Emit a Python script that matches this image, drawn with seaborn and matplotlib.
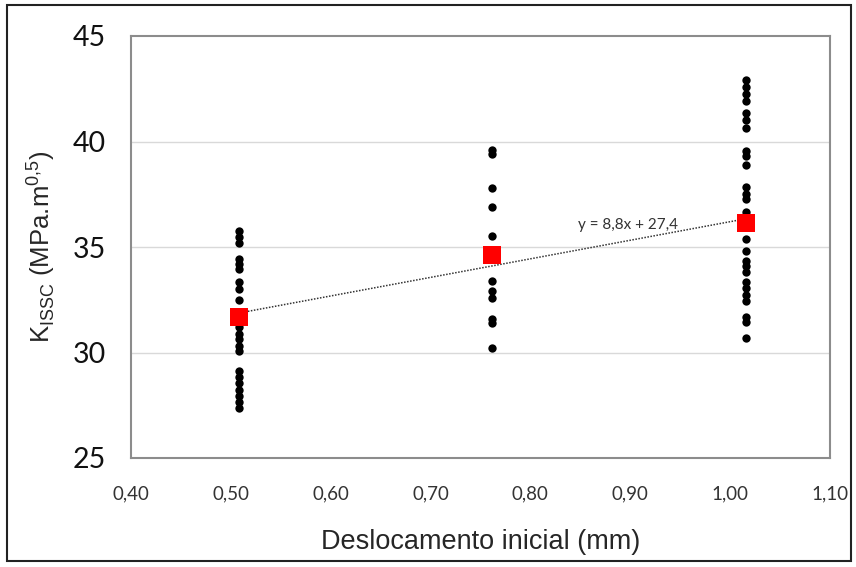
import numpy as np
import pandas as pd
import matplotlib
matplotlib.use("Agg")
import matplotlib.pyplot as plt
import seaborn as sns
from matplotlib.patches import Rectangle

# ---- data ----
x_positions = [0.508, 0.762, 1.016]
kissc_050 = [35.76, 35.48, 35.19, 34.43, 34.19, 33.95, 33.33, 33.0, 32.48, 31.8,
             31.48, 31.19, 30.9, 30.62, 30.33, 30.05, 29.1, 28.86, 28.57, 28.24,
             27.95, 27.67, 27.38]
kissc_076 = [39.6, 39.4, 37.8, 36.9, 35.5, 33.4, 32.9, 32.6, 31.6, 31.4, 30.2]
kissc_102 = [42.9, 42.57, 42.24, 41.9, 41.33, 41.0, 40.62, 39.57, 39.29, 38.9,
             37.86, 37.52, 37.29, 36.67, 35.38, 34.81, 34.33, 34.1, 33.81, 33.33,
             33.05, 32.71, 32.43, 31.67, 31.43, 30.71]
mean_values = [31.7, 34.6, 36.15]
trend_slope = 8.8
trend_intercept = 27.4
trend_label = "y = 8,8x + 27,4"
x_ticks = [0.40, 0.50, 0.60, 0.70, 0.80, 0.90, 1.00, 1.10]
x_ticklabels = ["0,40", "0,50", "0,60", "0,70", "0,80", "0,90", "1,00", "1,10"]
y_ticks = [25, 30, 35, 40, 45]

groups = [kissc_050, kissc_076, kissc_102]
pts = pd.DataFrame({
    "x": np.concatenate([[xp] * len(g) for xp, g in zip(x_positions, groups)]),
    "y": np.concatenate(groups),
})
means = pd.DataFrame({"x": x_positions, "y": mean_values})
xt = np.array([x_positions[0], x_positions[-1]])
trend = pd.DataFrame({"x": xt, "y": trend_slope * xt + trend_intercept})

sns.set_theme(style="white")
plt.rcParams["font.family"] = ["Liberation Sans", "DejaVu Sans"]

W, H = 856, 567
fig = plt.figure(figsize=(W / 100, H / 100), dpi=100)
ax = fig.add_axes([131 / W, 1 - 458 / H, (830 - 131) / W, (458 - 36) / H])

# outer border
fig.patches.append(Rectangle((7 / W, 1 - 561 / H), (851 - 7) / W, (561 - 5) / H,
                             transform=fig.transFigure, fill=False,
                             edgecolor="#222222", linewidth=1.5))

for yv in [30, 35, 40]:
    ax.axhline(yv, color="#d9d9d9", linewidth=1.0, zorder=0)

sns.lineplot(data=trend, x="x", y="y", ax=ax, color="#333333",
             linestyle=(0, (1, 1)), linewidth=1.1, zorder=2)
sns.scatterplot(data=pts, x="x", y="y", ax=ax, color="black", marker="o",
                s=36, linewidth=0, zorder=3)
sns.scatterplot(data=means, x="x", y="y", ax=ax, color="#ff0000", marker="s",
                s=150, linewidth=0, zorder=4)

ax.text(0.848, 36.05, trend_label, fontsize=11, family=["Lato", "DejaVu Sans"],
        color="#333333", ha="left", va="center")

ax.set_xlim(0.40, 1.10)
ax.set_ylim(25, 45)
ax.set_xticks(x_ticks)
ax.set_xticklabels(x_ticklabels, fontsize=13.5, color="#333333",
                   family=["Lato", "DejaVu Sans"])
ax.set_yticks(y_ticks)
ax.set_yticklabels([str(v) for v in y_ticks], fontsize=20.5, color="#111111",
                   family=["Lato", "DejaVu Sans"])
ax.tick_params(axis="x", length=0, pad=20)
ax.tick_params(axis="y", length=0, pad=18)

ax.set_xlabel("Deslocamento inicial (mm)", fontsize=19.5, labelpad=19)
ax.set_ylabel(r"K$_{\mathregular{ISSC}}$ (MPa.m$^{\mathregular{0{,}5}}$)",
              fontsize=18.5, labelpad=11)

for sp in ax.spines.values():
    sp.set_color("#8c8c8c")
    sp.set_linewidth(1.5)

fig.savefig("out.png", dpi=100)
